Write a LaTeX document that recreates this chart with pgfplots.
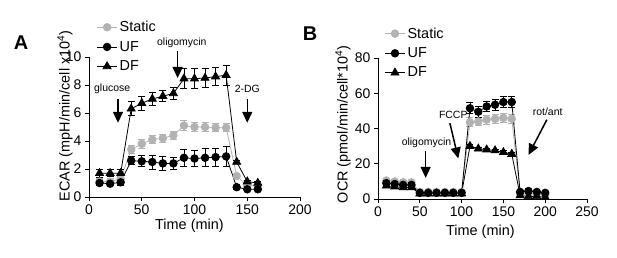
\documentclass[border=0pt]{standalone}
\usepackage{fontspec}
\setmainfont{Liberation Sans}
\usepackage{pgfplots}
\pgfplotsset{compat=1.18}
\usetikzlibrary{arrows.meta}
\definecolor{stgray}{RGB}{178,178,178}

\pgfplotstableread{
x   y    e
10  1.1  0.2
20  1.1  0.2
30  1.3  0.2
40  3.4  0.3
50  3.8  0.3
60  4.1  0.3
70  4.2  0.3
80  4.4  0.3
90  5.1  0.35
100 5.0  0.3
110 5.0  0.3
120 4.95 0.3
130 4.95 0.3
140 1.5  0.1
150 0.8  0.1
160 0.8  0.1
}\AStatic
\pgfplotstableread{
x   y    e
10  1.0  0.2
20  0.95 0.1
30  1.05 0.2
40  2.6  0.3
50  2.55 0.4
60  2.5  0.5
70  2.4  0.5
80  2.4  0.45
90  2.8  0.6
100 2.75 0.6
110 2.8  0.65
120 2.85 0.65
130 2.9  0.7
140 0.7  0.15
150 0.55 0.1
160 0.55 0.1
}\AUF
\pgfplotstableread{
x   y    e
10  1.7  0.3
20  1.7  0.25
30  1.7  0.25
40  6.3  0.5
50  6.7  0.5
60  7.0  0.45
70  7.2  0.4
80  7.4  0.45
90  8.45 0.7
100 8.45 0.7
110 8.5  0.7
120 8.6  0.65
130 8.7  0.7
140 2.5  0.1
150 1.1  0.1
160 1.0  0.1
}\ADF
\pgfplotstableread{
x   y    e
10  10.5 1.0
20  10.0 1.0
30  9.5  1.0
40  9.5  1.0
50  4.0  1.0
60  4.0  1.0
70  4.0  1.0
80  4.0  1.0
90  4.0  1.0
100 4.0  1.0
110 43.5 2.5
120 44.0 2.5
130 45.0 2.5
140 45.5 2.5
150 46.0 2.5
160 45.5 2.5
170 3.0  0.8
180 3.0  0.8
190 3.0  0.8
200 2.5  0.8
}\BStatic
\pgfplotstableread{
x   y    e
10  9.0  0.8
20  8.5  0.8
30  8.0  0.8
40  8.0  0.8
50  3.5  0.8
60  3.5  0.8
70  3.5  0.8
80  3.5  0.8
90  3.5  0.8
100 3.5  0.8
110 51.5 3.0
120 49.5 3.0
130 52.5 3.0
140 53.5 3.0
150 55.0 3.0
160 55.0 3.0
170 4.0  0.8
180 4.5  0.8
190 4.0  0.8
200 3.5  0.8
}\BUF
\pgfplotstableread{
x   y    e
10  7.5  0.8
20  7.0  0.8
30  6.5  0.8
40  6.5  0.8
50  3.0  0.5
60  3.0  0.5
70  3.0  0.5
80  3.0  0.5
90  3.0  0.5
100 3.0  0.5
110 30.0 0.8
120 28.5 0.8
130 28.0 0.8
140 27.5 0.8
150 26.5 0.8
160 25.5 0.8
170 2.0  0.5
180 1.5  0.5
190 1.5  0.5
200 1.0  0.5
}\BDF

\tikzset{
  arr/.style={line width=1.5pt, -{Triangle[width=10bp,length=11bp]}},
  ann/.style={font=\fontsize{10.5}{11}\selectfont},
}
\pgfplotsset{
  myax/.style={
    scale only axis, axis lines*=left, tick align=outside,
    major tick length=4bp,
    tick style={black, line width=0.9pt},
    axis line style={line width=0.9pt},
    /pgf/number format/assume math mode=true,
    tick label style={font=\fontsize{14}{14}\selectfont},
    label style={font=\fontsize{14.5}{15}\selectfont},
    legend style={draw=none, fill=none, font=\fontsize{14.5}{15}\selectfont,
      row sep=4bp, inner sep=2bp},
    legend cell align=left,
    legend image code/.code={\draw[mark repeat=2,mark phase=2] plot coordinates {(0cm,0cm) (0.36cm,0cm) (0.72cm,0cm)};},
    clip=false,
    every axis plot/.append style={line width=0.8pt},
  },
  ebar/.style={error bars/.cd, y dir=both, y explicit,
    error bar style={line width=0.9pt, #1},
    error mark options={rotate=90, mark size=3.5bp, line width=0.9pt, #1}},
  sst/.style={color=stgray, mark=*, mark size=3.8bp, mark options={fill=stgray, draw=stgray}},
  suf/.style={color=black, mark=*, mark size=3.8bp, mark options={fill=black}},
  sdf/.style={color=black, mark=triangle*, mark size=4.6bp, mark options={fill=black}},
}

\begin{document}
\begin{tikzpicture}
\path[use as bounding box] (0,0) rectangle (617bp,258bp);
\node[font=\bfseries\fontsize{20}{20}\selectfont] at (21bp,215bp) {A};
\node[font=\bfseries\fontsize{20}{20}\selectfont] at (310bp,224bp) {B};

\begin{axis}[myax,
  at={(89bp,61bp)}, anchor=south west,
  width=211bp, height=140bp,
  xmin=0, xmax=200, ymin=0, ymax=10,
  xtick={0,50,...,200}, ytick={0,2,...,10},
  xlabel={Time (min)},
  ylabel={ECAR (mpH/min/cell x10\textsuperscript{4})},
  xlabel style={at={(axis description cs:0.476,-0.207)}, anchor=center},
  ylabel style={at={(axis description cs:-0.114,0.58)}, anchor=center},
  legend style={at={(axis description cs:0.025,1.285)}, anchor=north west},
]
\addplot[sst, ebar={stgray}] table[x=x, y=y, y error=e] {\AStatic};
\addlegendentry{Static}
\addplot[suf, ebar={black}] table[x=x, y=y, y error=e] {\AUF};
\addlegendentry{UF}
\addplot[sdf, ebar={black}] table[x=x, y=y, y error=e] {\ADF};
\addlegendentry{DF}
\draw[arr] (axis cs:27.5,7.0) -- (axis cs:27.5,5.3);
\node[ann] at (axis cs:22,7.75) {glucose};
\draw[arr] (axis cs:84,10.4) -- (axis cs:84,8.5);
\node[ann] at (axis cs:88,11.05) {oligomycin};
\draw[arr] (axis cs:150,7.0) -- (axis cs:150,5.3);
\node[ann] at (axis cs:150,7.75) {2-DG};
\end{axis}

\begin{axis}[myax,
  at={(378bp,59bp)}, anchor=south west,
  width=209bp, height=141bp,
  xmin=0, xmax=250, ymin=0, ymax=80,
  xtick={0,50,...,250}, ytick={0,20,...,80},
  xlabel={Time (min)},
  ylabel={OCR (pmol/min/cell*10\textsuperscript{4})},
  xlabel style={at={(axis description cs:0.49,-0.234)}, anchor=center},
  ylabel style={at={(axis description cs:-0.167,0.53)}, anchor=center},
  legend style={at={(axis description cs:0.02,1.245)}, anchor=north west},
]
\addplot[sst, ebar={stgray}] table[x=x, y=y, y error=e] {\BStatic};
\addlegendentry{Static}
\addplot[suf, ebar={black}] table[x=x, y=y, y error=e] {\BUF};
\addlegendentry{UF}
\addplot[sdf, ebar={black}] table[x=x, y=y, y error=e] {\BDF};
\addlegendentry{DF}
\draw[arr] (axis cs:57,27) -- (axis cs:57,12);
\node[ann] at (axis cs:58,32) {oligomycin};
\draw[arr] (axis cs:86,43) -- (axis cs:96,23);
\node[ann] at (axis cs:90,47.5) {FCCP};
\draw[arr] (axis cs:202,45) -- (axis cs:180,25);
\node[ann] at (axis cs:203,49.5) {rot/ant};
\end{axis}
\end{tikzpicture}
\end{document}
